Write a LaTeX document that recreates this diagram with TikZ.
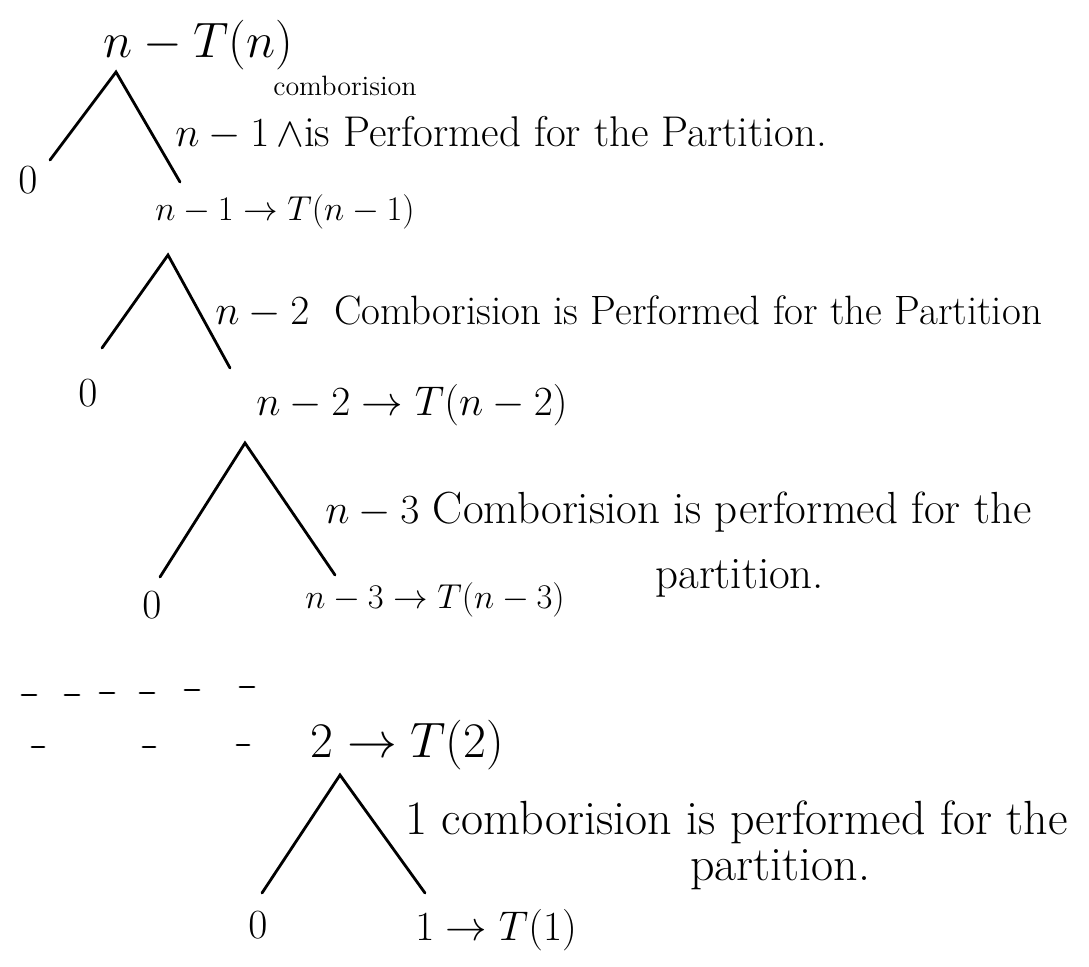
\documentclass[tikz,border=0pt]{standalone}
\begin{document}
\begin{tikzpicture}[x=0.5pt,y=-0.5pt,
  lab/.style={anchor=west, inner sep=0pt, font=\fontsize{20}{24}\selectfont},
  txt/.style={anchor=west, inner sep=0pt, font=\fontsize{22.5}{26}\selectfont},
  leaf/.style={inner sep=0pt, font=\fontsize{20}{24}\selectfont},
  edge/.style={line width=1.4pt, line cap=round}]
\useasboundingbox (0,0) rectangle (1089,966);
% --- level n ---
\node[lab, font=\fontsize{28}{32}\selectfont] (tn) at (103,45) {$n - T(n)$};
\coordinate (a1) at (116,72);
\coordinate (l1) at (50,160);
\coordinate (r1) at (180,182);
\draw[edge] (l1) -- (a1) -- (r1);
\node[leaf] (z1) at (28,180) {$0$};
\node[font=\fontsize{14}{16}\selectfont, inner sep=0pt] (c1) at (345,86) {comborision};
\node[txt, font=\fontsize{21.5}{25}\selectfont] (s1) at (175,133) {$n-1$\,$\wedge$is Performed for the Partition.};
\node[lab, font=\fontsize{18}{22}\selectfont] (tn1) at (155,212) {$n-1 \rightarrow T(n-1)$};
% --- level n-1 ---
\coordinate (a2) at (168,255);
\coordinate (l2) at (102,348);
\coordinate (r2) at (230,368);
\draw[edge] (l2) -- (a2) -- (r2);
\node[leaf] (z2) at (88,393) {$0$};
\node[txt, font=\fontsize{20.5}{24}\selectfont] (s2) at (215,312) {$n-2$\ \ Comborision is Performed for the Partition};
\node[lab, font=\fontsize{21.5}{25}\selectfont] (tn2) at (256,405) {$n-2 \rightarrow T(n-2)$};
% --- level n-2 ---
\coordinate (a3) at (245,443);
\coordinate (l3) at (160,577);
\coordinate (r3) at (335,575);
\draw[edge] (l3) -- (a3) -- (r3);
\node[leaf] (z3) at (152,605) {$0$};
\node[txt] (s3) at (325,512) {$n-3$ Comborision is performed for the};
\node[txt] (s3b) at (655,578) {partition.};
\node[lab, font=\fontsize{19}{23}\selectfont] (tn3) at (305,600) {$n-3 \rightarrow T(n-3)$};
% --- dashes ---
\foreach \x/\y in {22/695,65/695,100/693,140/693,185/690,240/687}
  \draw[edge] (\x,\y) -- ++(14,0);
\foreach \x/\y in {32/747,143/747,237/745}
  \draw[edge] (\x,\y) -- ++(12,0);
% --- level 2 ---
\node[lab, font=\fontsize{23}{27}\selectfont] (t2) at (310,745) {$2 \rightarrow T(2)$};
\coordinate (a4) at (340,775);
\coordinate (l4) at (262,893);
\coordinate (r4) at (425,893);
\draw[edge] (l4) -- (a4) -- (r4);
\node[leaf] (z4) at (258,925) {$0$};
\node[txt, font=\fontsize{24}{28}\selectfont] (s4) at (405,822) {1 comborision is performed for the};
\node[txt, font=\fontsize{24}{28}\selectfont] (s4b) at (690,870) {partition.};
\node[lab, font=\fontsize{22}{26}\selectfont] (t1) at (415,930) {$1 \rightarrow T(1)$};
\end{tikzpicture}
\end{document}
